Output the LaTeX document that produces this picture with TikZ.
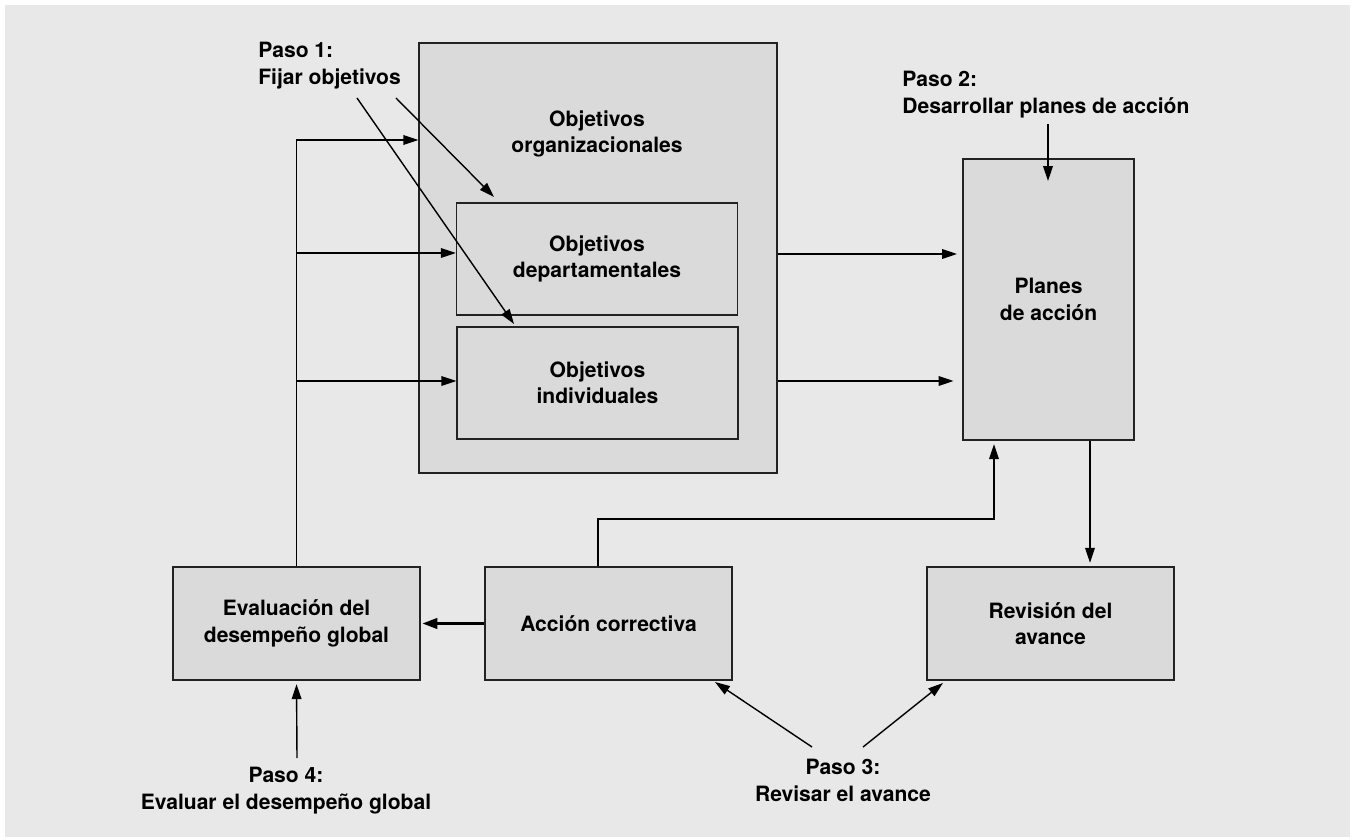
\documentclass[tikz,border=0pt]{standalone}
\usepackage{fontspec}
\setmainfont{TeX Gyre Heros}
\usepackage{xcolor}
\usetikzlibrary{arrows.meta}
\usetikzlibrary{calc}
\definecolor{bggray}{HTML}{E8E8E8}
\definecolor{boxgray}{HTML}{DADADA}
\definecolor{edgegray}{HTML}{222222}

\begin{document}
\begin{tikzpicture}[
  x=0.02cm, y=-0.02cm,
  every node/.style={font=\bfseries\fontsize{12}{15}\selectfont,align=center},
  box/.style={draw=edgegray,fill=boxgray,line width=0.8pt,inner sep=0pt},
  steplabel/.style={inner sep=0pt},
  arr/.style={-{Triangle[length=8.5pt,width=5.5pt]},line width=0.8pt},
  thickarr/.style={-{Triangle[length=8.5pt,width=6pt]},line width=1.5pt},
]
\useasboundingbox (0,0) rectangle (1356,837);
\fill[white] (0,0) rectangle (1356,837);
\fill[bggray] (5,5) rectangle (1350,837);
% boxes
\node[box,minimum width=7.16cm,minimum height=8.6cm](org) at(598,258){};
\node(orgtxt) at(597,134){Objetivos\\organizacionales};
\node[box,minimum width=5.62cm,minimum height=2.24cm](dep) at(597,259){Objetivos\\departamentales};
\node[box,minimum width=5.62cm,minimum height=2.24cm](ind) at(597.5,383){Objetivos\\individuales};
\node[box,minimum width=3.42cm,minimum height=5.62cm](planes) at(1048.5,299.5){Planes\\de acción};
\node[box,minimum width=4.94cm,minimum height=2.26cm](eval) at(296.5,623.5){Evaluación del\\desempeño global};
\node[box,minimum width=4.94cm,minimum height=2.26cm](acc) at(608.5,623.5){Acción correctiva};
\node[box,minimum width=4.94cm,minimum height=2.26cm](rev) at(1050.5,623.5){Revisión del\\avance};
% step labels
\node[steplabel,anchor=north west,align=left](step1) at(258,42){Paso 1:\\Fijar objetivos};
\node[steplabel,anchor=north west,align=left](step2) at(902,71){Paso 2:\\Desarrollar planes de acción};
\node[steplabel,anchor=north](step3) at(843,759){Paso 3:\\Revisar el avance};
\node[steplabel,anchor=north](step4) at(286,767){Paso 4:\\Evaluar el desempeño global};
% free ends
\coordinate(s1a) at(357,98); \coordinate(s1b) at(396,98);
\coordinate(s2a) at(1048,124); \coordinate(s2b) at(1048,181);
\coordinate(s3a) at(812,747); \coordinate(s3b) at(863,747);
\coordinate(s4a) at(297,758);
% step arrows
\draw[arr](s1b)--(494,197);
\draw[arr](s1a)--(514,324);
\draw[arr](s2a)--(s2b);
\draw[arr](s3a)--(715,682);
\draw[arr](s3b)--(943,683);
\draw[arr,shorten >=2pt](s4a)--(eval.south);
% feedback to objectives
\draw[arr](eval.north)|-(org.west|-0,140);
\draw[arr](297,253)--(dep.west|-0,253);
\draw[arr](297,381)--(ind.west|-0,381);
% objectives to plans
\draw[arr,shorten >=3pt](org.east|-0,254)--(planes.west|-0,254);
\draw[arr,shorten >=5pt](org.east|-0,381)--(planes.west|-0,381);
% review loop
\draw[arr,shorten >=2pt](planes.south-|1090,0)--(rev.north-|1090,0);
\draw[arr,shorten >=2pt](acc.north-|598,0)|-(994,519)--(planes.south-|994,0);
\draw[thickarr,shorten >=1pt](acc.west)--(eval.east);
\end{tikzpicture}
\end{document}
